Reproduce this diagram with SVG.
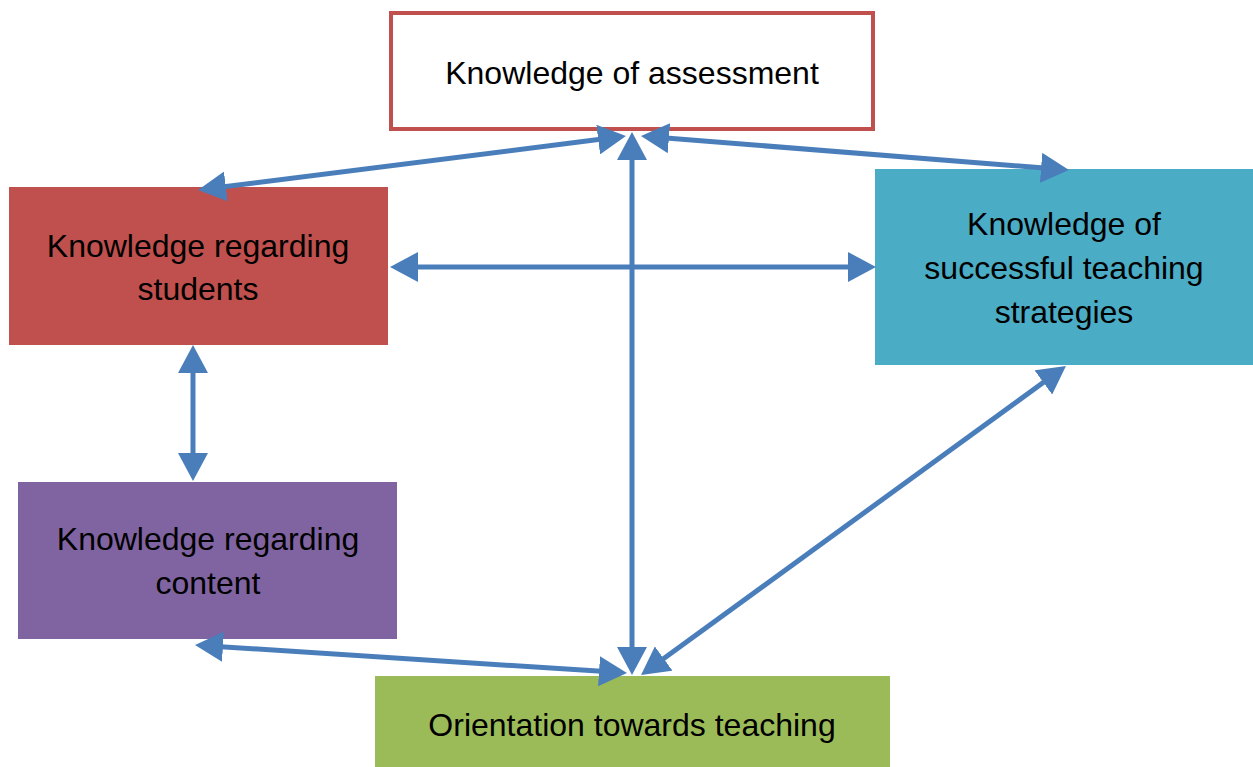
<svg xmlns="http://www.w3.org/2000/svg" width="1253" height="767" viewBox="0 0 1253 767">
<style>
text{font-family:"Liberation Sans",Arial,sans-serif;font-size:32px;fill:#000;text-anchor:middle}
.c{stroke:#4A7EBB;stroke-width:5;fill:none;marker-start:url(#ah);marker-end:url(#ah)}
</style>
<defs>
<marker id="ah" markerUnits="userSpaceOnUse" markerWidth="30" markerHeight="30" refX="22" refY="15" orient="auto-start-reverse" viewBox="0 0 30 30">
<path d="M0,0 L28,15 L0,30 z" fill="#4A7EBB"/>
</marker>
</defs>
<rect width="1253" height="767" fill="#fff"/>
<g id="assessment">
<rect x="391" y="13" width="482" height="116" fill="#fff" stroke="#C0504D" stroke-width="4"/>
<text x="632" y="84">Knowledge of assessment</text>
</g>
<g id="students">
<rect x="9" y="187" width="379" height="158" fill="#C0504D"/>
<text x="198" y="257">Knowledge regarding</text>
<text x="198" y="300">students</text>
</g>
<g id="strategies">
<rect x="875" y="169" width="378" height="196" fill="#4BACC6"/>
<text x="1064" y="235">Knowledge of</text>
<text x="1064" y="279">successful teaching</text>
<text x="1064" y="323">strategies</text>
</g>
<g id="content">
<rect x="18" y="482" width="379" height="157" fill="#8064A2"/>
<text x="208" y="550">Knowledge regarding</text>
<text x="208" y="594">content</text>
</g>
<g id="orientation">
<rect x="375" y="676" width="515" height="91" fill="#9BBB59"/>
<text x="632" y="736">Orientation towards teaching</text>
</g>
<g id="connectors">
<line class="c" x1="204" y1="189.2" x2="620" y2="136.8"/>
<line class="c" x1="647" y1="136.5" x2="1063" y2="169.5"/>
<line class="c" x1="632" y1="138" x2="632" y2="669"/>
<line class="c" x1="396" y1="267" x2="870" y2="267"/>
<line class="c" x1="193" y1="351" x2="193" y2="475"/>
<line class="c" x1="201" y1="645.4" x2="621" y2="672.6"/>
<line class="c" x1="1061.1" y1="369.5" x2="645.9" y2="671.5"/>
</g>
</svg>
